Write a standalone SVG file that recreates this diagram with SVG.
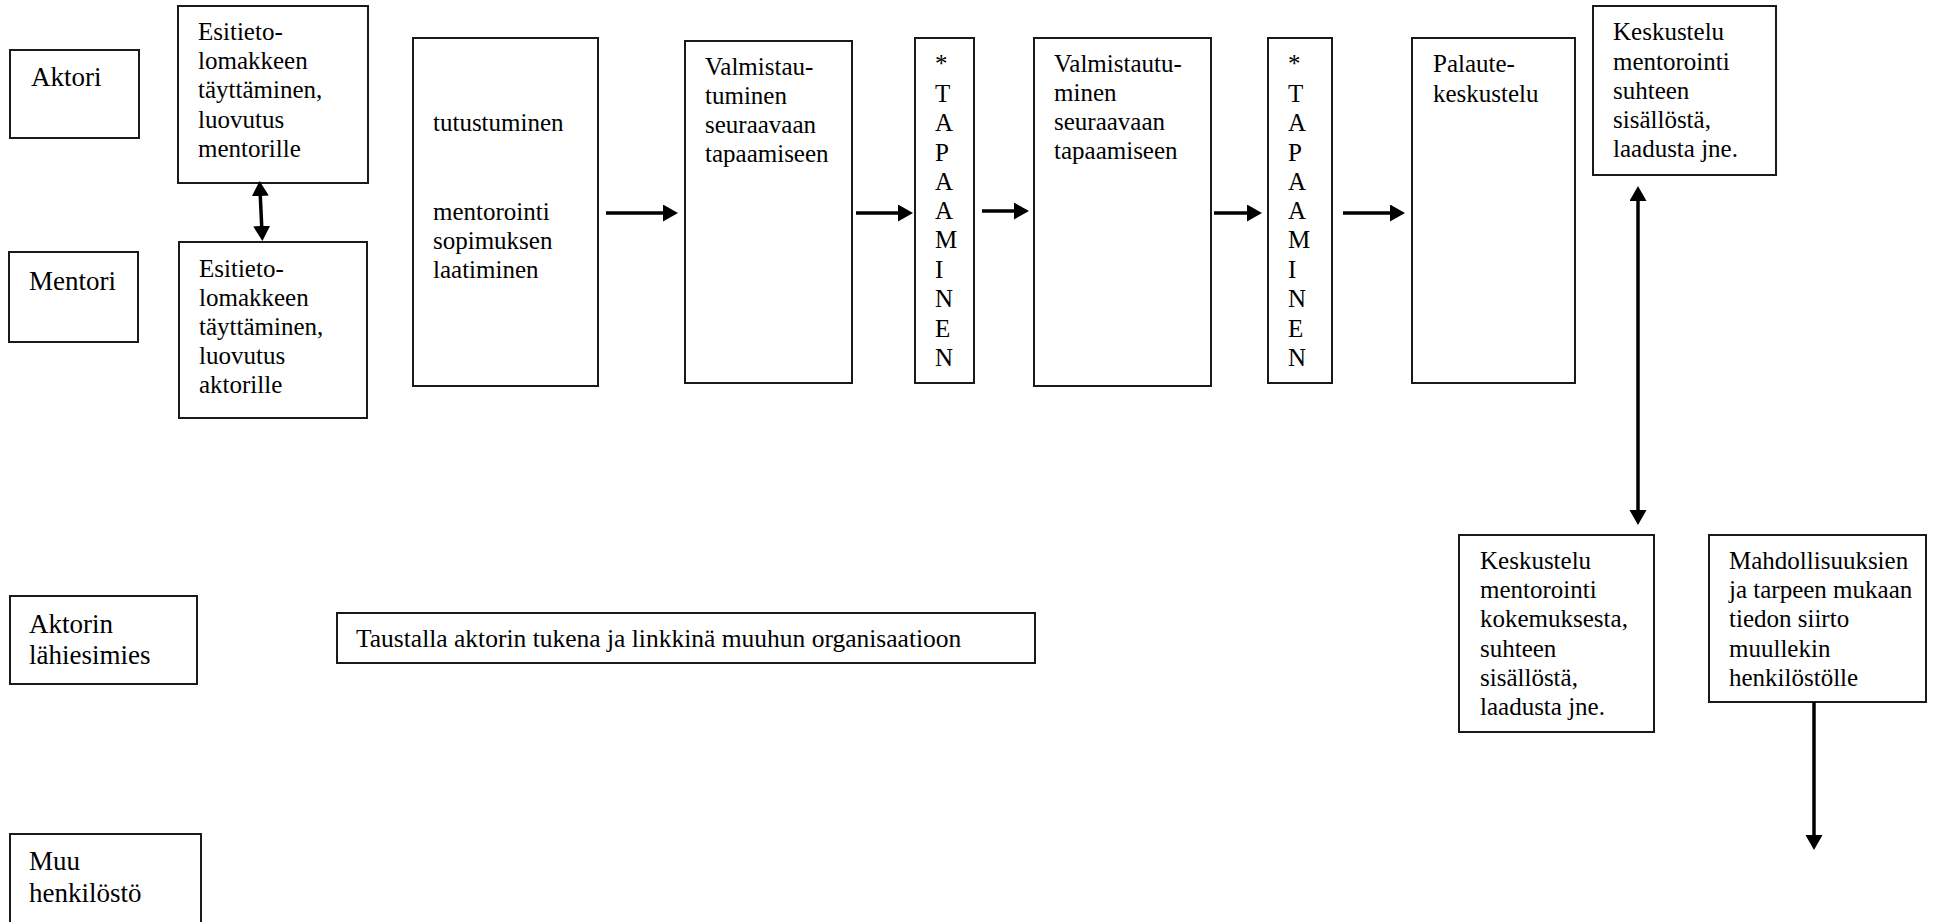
<svg xmlns="http://www.w3.org/2000/svg" width="1942" height="922" viewBox="0 0 1942 922">
<style>
rect.box{fill:#fff;stroke:#1a1a1a;stroke-width:2}
text{font-family:"Liberation Serif","Times New Roman",serif;fill:#000}
.t{font-size:25px}
.l{font-size:27px}
.c{stroke:#000;stroke-width:3.5;fill:none}
</style>
<defs>
<marker id="ah" markerUnits="userSpaceOnUse" markerWidth="16" markerHeight="18" refX="2" refY="8.5" orient="auto-start-reverse" viewBox="0 0 16 18">
<path d="M0,0 L15,8.5 L0,17 z" fill="#000"/>
</marker>
</defs>
<rect width="1942" height="922" fill="#fff"/>

<g id="aktori"><rect class="box" x="10" y="50" width="129" height="88"/><text class="l" x="31" y="86">Aktori</text></g>
<g id="mentori"><rect class="box" x="9" y="252" width="129" height="90"/><text class="l" x="29" y="290">Mentori</text></g>
<g id="lahiesimies"><rect class="box" x="10" y="596" width="187" height="88"/><text class="l" x="29" y="633">Aktorin</text><text class="l" x="29" y="664">lähiesimies</text></g>
<g id="muu"><rect class="box" x="10" y="834" width="191" height="100"/><text class="l" x="29" y="870">Muu</text><text class="l" x="29" y="902">henkilöstö</text></g>

<g id="esitieto1"><rect class="box" x="178" y="6" width="190" height="177"/>
<text class="t" x="198"><tspan x="198" y="40">Esitieto-</tspan><tspan x="198" y="69">lomakkeen</tspan><tspan x="198" y="98">täyttäminen,</tspan><tspan x="198" y="128">luovutus</tspan><tspan x="198" y="157">mentorille</tspan></text></g>
<g id="esitieto2"><rect class="box" x="179" y="242" width="188" height="176"/>
<text class="t" x="199"><tspan x="199" y="277">Esitieto-</tspan><tspan x="199" y="306">lomakkeen</tspan><tspan x="199" y="335">täyttäminen,</tspan><tspan x="199" y="364">luovutus</tspan><tspan x="199" y="393">aktorille</tspan></text></g>

<g id="tutustuminen"><rect class="box" x="413" y="38" width="185" height="348"/>
<text class="t"><tspan x="433" y="131">tutustuminen</tspan><tspan x="433" y="220">mentorointi</tspan><tspan x="433" y="249">sopimuksen</tspan><tspan x="433" y="278">laatiminen</tspan></text></g>

<g id="valmistau1"><rect class="box" x="685" y="41" width="167" height="342"/>
<text class="t"><tspan x="705" y="75">Valmistau-</tspan><tspan x="705" y="104">tuminen</tspan><tspan x="705" y="133">seuraavaan</tspan><tspan x="705" y="162">tapaamiseen</tspan></text></g>

<g id="tapaaminen1"><rect class="box" x="915" y="38" width="59" height="345"/>
<text class="t"><tspan x="935" y="72">*</tspan><tspan x="935" y="102">T</tspan><tspan x="935" y="131">A</tspan><tspan x="935" y="161">P</tspan><tspan x="935" y="190">A</tspan><tspan x="935" y="219">A</tspan><tspan x="935" y="248">M</tspan><tspan x="935" y="278">I</tspan><tspan x="935" y="307">N</tspan><tspan x="935" y="337">E</tspan><tspan x="935" y="366">N</tspan></text></g>

<g id="valmistau2"><rect class="box" x="1034" y="38" width="177" height="348"/>
<text class="t"><tspan x="1054" y="72">Valmistautu-</tspan><tspan x="1054" y="101">minen</tspan><tspan x="1054" y="130">seuraavaan</tspan><tspan x="1054" y="159">tapaamiseen</tspan></text></g>

<g id="tapaaminen2"><rect class="box" x="1268" y="38" width="64" height="345"/>
<text class="t"><tspan x="1288" y="72">*</tspan><tspan x="1288" y="102">T</tspan><tspan x="1288" y="131">A</tspan><tspan x="1288" y="161">P</tspan><tspan x="1288" y="190">A</tspan><tspan x="1288" y="219">A</tspan><tspan x="1288" y="248">M</tspan><tspan x="1288" y="278">I</tspan><tspan x="1288" y="307">N</tspan><tspan x="1288" y="337">E</tspan><tspan x="1288" y="366">N</tspan></text></g>

<g id="palaute"><rect class="box" x="1412" y="38" width="163" height="345"/>
<text class="t"><tspan x="1433" y="72">Palaute-</tspan><tspan x="1433" y="102">keskustelu</tspan></text></g>

<g id="keskustelu1"><rect class="box" x="1593" y="6" width="183" height="169"/>
<text class="t"><tspan x="1613" y="40">Keskustelu</tspan><tspan x="1613" y="70">mentorointi</tspan><tspan x="1613" y="99">suhteen</tspan><tspan x="1613" y="128">sisällöstä,</tspan><tspan x="1613" y="157">laadusta jne.</tspan></text></g>

<g id="keskustelu2"><rect class="box" x="1459" y="535" width="195" height="197"/>
<text class="t"><tspan x="1480" y="569">Keskustelu</tspan><tspan x="1480" y="598">mentorointi</tspan><tspan x="1480" y="627">kokemuksesta,</tspan><tspan x="1480" y="657">suhteen</tspan><tspan x="1480" y="686">sisällöstä,</tspan><tspan x="1480" y="715">laadusta jne.</tspan></text></g>

<g id="mahdollisuuksien"><rect class="box" x="1709" y="535" width="217" height="167"/>
<text class="t"><tspan x="1729" y="569">Mahdollisuuksien</tspan><tspan x="1729" y="598">ja tarpeen mukaan</tspan><tspan x="1729" y="627">tiedon siirto</tspan><tspan x="1729" y="657">muullekin</tspan><tspan x="1729" y="686">henkilöstölle</tspan></text></g>

<g id="taustalla"><rect class="box" x="337" y="613" width="698" height="50"/>
<text class="t" x="356" y="647" style="font-size:25.5px">Taustalla aktorin tukena ja linkkinä muuhun organisaatioon</text></g>

<g id="connectors">
<line class="c" x1="260.2" y1="194" x2="261.8" y2="228" marker-start="url(#ah)" marker-end="url(#ah)"/>
<line class="c" x1="606" y1="213" x2="665" y2="213" marker-end="url(#ah)"/>
<line class="c" x1="856" y1="213" x2="900" y2="213" marker-end="url(#ah)"/>
<line class="c" x1="982" y1="211" x2="1016" y2="211" marker-end="url(#ah)"/>
<line class="c" x1="1214" y1="213" x2="1249" y2="213" marker-end="url(#ah)"/>
<line class="c" x1="1343" y1="213" x2="1392" y2="213" marker-end="url(#ah)"/>
<line class="c" x1="1638" y1="199" x2="1638" y2="512" marker-start="url(#ah)" marker-end="url(#ah)"/>
<line class="c" x1="1814" y1="702" x2="1814" y2="837" marker-end="url(#ah)"/>
</g>
</svg>
